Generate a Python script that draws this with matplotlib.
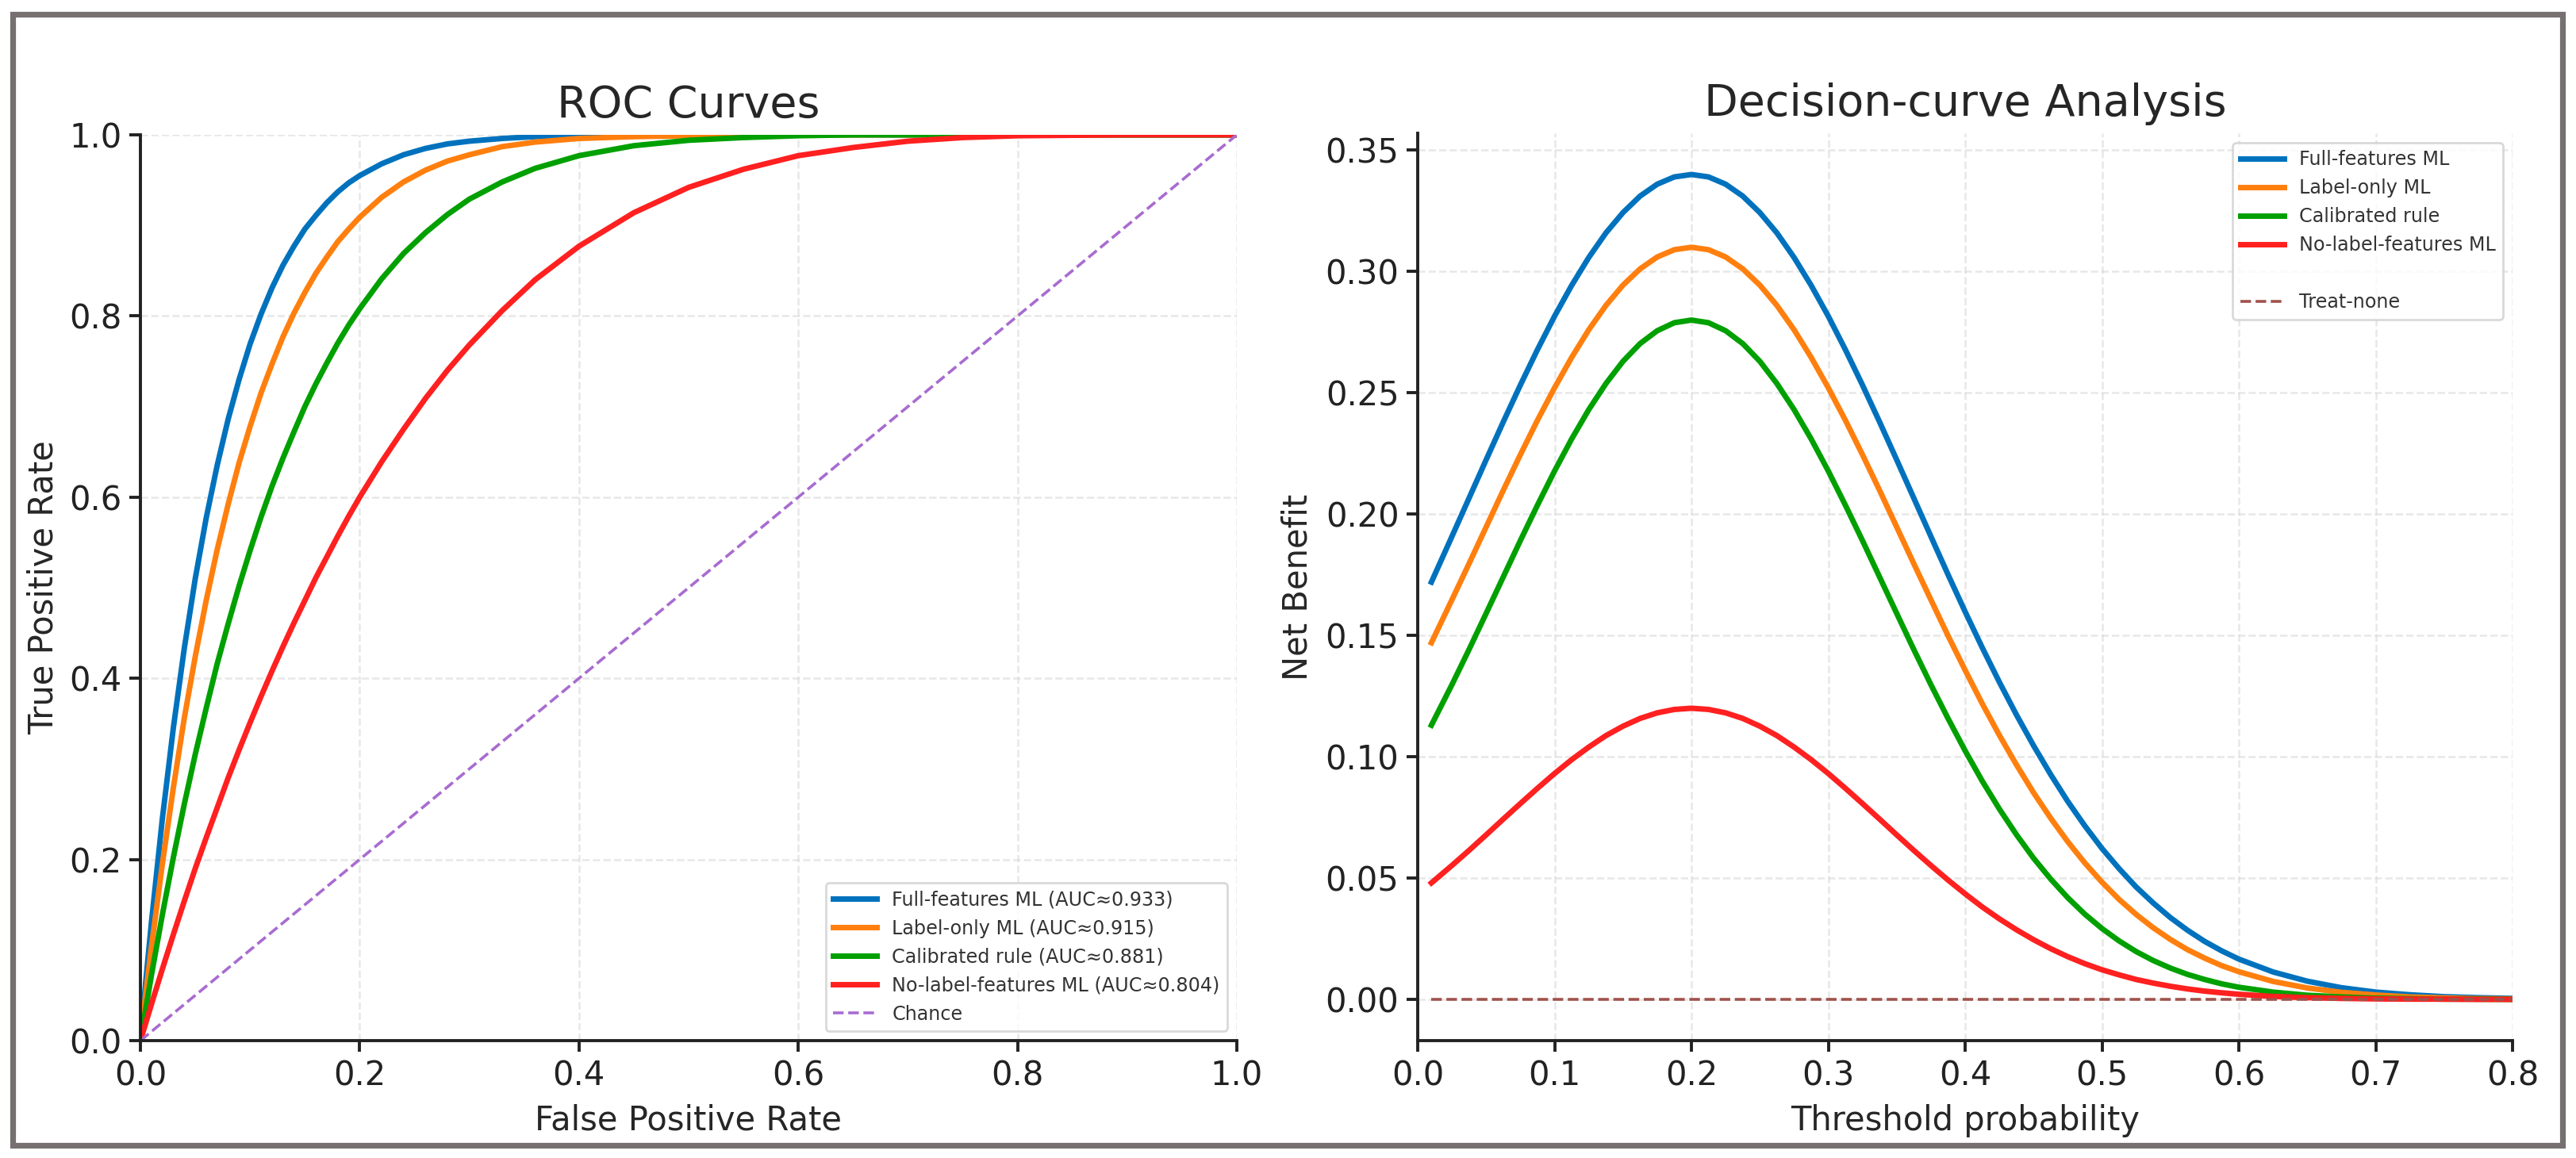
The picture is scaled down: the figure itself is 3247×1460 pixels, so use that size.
import matplotlib
matplotlib.use("Agg")
import matplotlib.pyplot as plt
from matplotlib.patches import Rectangle

# ---------------- data ----------------
fpr = [0.0, 0.005, 0.01, 0.02, 0.03, 0.04, 0.05, 0.06, 0.07, 0.08, 0.09, 0.10,
       0.11, 0.12, 0.13, 0.14, 0.15, 0.16, 0.17, 0.18, 0.19, 0.20, 0.22, 0.24,
       0.26, 0.28, 0.30, 0.33, 0.36, 0.40, 0.45, 0.50, 0.55, 0.60, 0.65, 0.70,
       0.75, 0.80, 0.90, 1.0]
tpr_full = [0.0, 0.067, 0.130, 0.245, 0.345, 0.433, 0.510, 0.577, 0.635, 0.686,
            0.730, 0.769, 0.802, 0.831, 0.856, 0.877, 0.896, 0.911, 0.925, 0.937,
            0.947, 0.955, 0.968, 0.978, 0.985, 0.990, 0.993, 0.996, 0.998, 0.999,
            1.0, 1.0, 1.0, 1.0, 1.0, 1.0, 1.0, 1.0, 1.0, 1.0]
tpr_label = [0.0, 0.053, 0.103, 0.195, 0.279, 0.356, 0.424, 0.486, 0.542, 0.592,
             0.638, 0.678, 0.715, 0.747, 0.777, 0.803, 0.826, 0.847, 0.865, 0.882,
             0.896, 0.909, 0.931, 0.948, 0.961, 0.971, 0.978, 0.987, 0.992, 0.996,
             0.998, 0.999, 1.0, 1.0, 1.0, 1.0, 1.0, 1.0, 1.0, 1.0]
tpr_rule = [0.0, 0.036, 0.072, 0.139, 0.202, 0.261, 0.316, 0.367, 0.416, 0.460,
            0.502, 0.541, 0.578, 0.612, 0.643, 0.672, 0.700, 0.725, 0.748, 0.770,
            0.790, 0.808, 0.841, 0.869, 0.892, 0.912, 0.929, 0.948, 0.963, 0.977,
            0.988, 0.994, 0.997, 0.999, 1.0, 1.0, 1.0, 1.0, 1.0, 1.0]
tpr_nolabel = [0.0, 0.020, 0.040, 0.079, 0.117, 0.154, 0.190, 0.224, 0.257, 0.290,
               0.321, 0.351, 0.380, 0.408, 0.435, 0.461, 0.486, 0.511, 0.534, 0.557,
               0.579, 0.600, 0.639, 0.675, 0.709, 0.740, 0.768, 0.806, 0.840, 0.877,
               0.914, 0.942, 0.962, 0.977, 0.986, 0.993, 0.997, 0.999, 1.0, 1.0]
chance_x = [0.0, 1.0]
chance_y = [0.0, 1.0]

roc_labels = ["Full-features ML (AUC\u22480.933)", "Label-only ML (AUC\u22480.915)",
              "Calibrated rule (AUC\u22480.881)", "No-label-features ML (AUC\u22480.804)"]

thresholds = [0.01, 0.025, 0.0375, 0.05, 0.0625, 0.075, 0.0875, 0.10, 0.1125, 0.125,
              0.1375, 0.15, 0.1625, 0.175, 0.1875, 0.20, 0.2125, 0.225, 0.2375, 0.25,
              0.2625, 0.275, 0.2875, 0.30, 0.3125, 0.325, 0.3375, 0.35, 0.3625, 0.375,
              0.3875, 0.40, 0.4125, 0.425, 0.4375, 0.45, 0.4625, 0.475, 0.4875, 0.50,
              0.5125, 0.525, 0.5375, 0.55, 0.5625, 0.575, 0.5875, 0.60, 0.625, 0.65,
              0.675, 0.70, 0.725, 0.75, 0.775, 0.80]
nb_full = [0.172, 0.1908, 0.2066, 0.2224, 0.2380, 0.2532, 0.2678, 0.2816, 0.2943, 0.3058,
           0.3159, 0.3243, 0.3311, 0.3360, 0.3390, 0.340, 0.3390, 0.3360, 0.3311, 0.3243,
           0.3159, 0.3058, 0.2943, 0.2816, 0.2678, 0.2532, 0.2380, 0.2224, 0.2066, 0.1908,
           0.1751, 0.1598, 0.1450, 0.1308, 0.1173, 0.1046, 0.0927, 0.0816, 0.0715, 0.0622,
           0.0539, 0.0463, 0.0397, 0.0337, 0.0285, 0.0239, 0.0200, 0.0166, 0.0113, 0.0075,
           0.0048, 0.0030, 0.0019, 0.0011, 0.0007, 0.0004]
nb_label = [0.147, 0.1647, 0.1796, 0.1947, 0.2098, 0.2245, 0.2387, 0.2521, 0.2646, 0.2760,
            0.2860, 0.2944, 0.3011, 0.3060, 0.3090, 0.310, 0.3090, 0.3060, 0.3011, 0.2944,
            0.2860, 0.2760, 0.2646, 0.2521, 0.2387, 0.2245, 0.2098, 0.1947, 0.1796, 0.1647,
            0.1499, 0.1357, 0.1219, 0.1089, 0.0967, 0.0852, 0.0747, 0.0650, 0.0562, 0.0483,
            0.0412, 0.0350, 0.0295, 0.0247, 0.0205, 0.0170, 0.0139, 0.0114, 0.0074, 0.0047,
            0.0029, 0.0018, 0.0010, 0.0006, 0.0003, 0.0002]
nb_rule = [0.113, 0.1297, 0.1442, 0.1591, 0.1741, 0.1891, 0.2037, 0.2178, 0.2310, 0.2431,
           0.2538, 0.2630, 0.2703, 0.2756, 0.2789, 0.280, 0.2789, 0.2756, 0.2703, 0.2630,
           0.2538, 0.2431, 0.2310, 0.2178, 0.2037, 0.1891, 0.1741, 0.1591, 0.1442, 0.1297,
           0.1158, 0.1025, 0.0900, 0.0785, 0.0679, 0.0582, 0.0496, 0.0419, 0.0351, 0.0292,
           0.0241, 0.0197, 0.0160, 0.0129, 0.0103, 0.0082, 0.0064, 0.0050, 0.0030, 0.0017,
           0.0010, 0.0005, 0.0003, 0.0001, 0.0001, 0.0000]
nb_nolabel = [0.048, 0.0552, 0.0614, 0.0678, 0.0743, 0.0807, 0.0870, 0.0931, 0.0988, 0.1040,
              0.1087, 0.1126, 0.1158, 0.1181, 0.1195, 0.120, 0.1195, 0.1181, 0.1158, 0.1126,
              0.1087, 0.1040, 0.0988, 0.0931, 0.0870, 0.0807, 0.0743, 0.0678, 0.0614, 0.0552,
              0.0492, 0.0435, 0.0381, 0.0332, 0.0287, 0.0246, 0.0209, 0.0176, 0.0147, 0.0122,
              0.0101, 0.0082, 0.0067, 0.0054, 0.0043, 0.0034, 0.0027, 0.0021, 0.0012, 0.0007,
              0.0004, 0.0002, 0.0001, 0.0001, 0.0000, 0.0000]
treat_none = [0.0] * len(thresholds)

dca_labels = ["Full-features ML", "Label-only ML", "Calibrated rule", "No-label-features ML"]

colors = ["#0072BD", "#FF7F0E", "#00A000", "#FF2020"]
chance_color = "#A86CD0"
none_color = "#A0524B"

# ---------------- figure ----------------
W, H = 3247, 1460
DPI = 200
plt.rcParams["font.family"] = ["DejaVu Sans"]
fig = plt.figure(figsize=(W / DPI, H / DPI), dpi=DPI)
fig.patch.set_facecolor("white")

TXT = "#262626"

ax1 = fig.add_axes([177 / W, 1 - 1312 / H, (1559 - 177) / W, (1312 - 170) / H])
ax2 = fig.add_axes([1787 / W, 1 - 1312 / H, (3167 - 1787) / W, (1312 - 168) / H])

lw = 2.5
for ys, c, lab in zip([tpr_full, tpr_label, tpr_rule, tpr_nolabel], colors, roc_labels):
    ax1.plot(fpr, ys, color=c, lw=lw, label=lab, solid_joinstyle="round")
ax1.plot(chance_x, chance_y, "--", color=chance_color, lw=1.3, label="Chance")
ax1.set_xlim(0, 1)
ax1.set_ylim(0, 1)
ax1.set_title("ROC Curves", fontsize=20, color=TXT, pad=8)
ax1.set_xlabel("False Positive Rate", fontsize=15, color=TXT, labelpad=5)
ax1.set_ylabel("True Positive Rate", fontsize=15, color=TXT, labelpad=4)
leg1 = ax1.legend(loc="lower right", fontsize=8.6, frameon=True, handlelength=2.3)

for ys, c, lab in zip([nb_full, nb_label, nb_rule, nb_nolabel], colors, dca_labels):
    ax2.plot(thresholds, ys, color=c, lw=lw, label=lab, solid_joinstyle="round")
ax2.plot([], [], color="none", label=" ")
ax2.plot(thresholds, treat_none, "--", color=none_color, lw=1.3, label="Treat-none")
ax2.set_xlim(0, 0.8)
ax2.set_title("Decision-curve Analysis", fontsize=20, color=TXT, pad=8)
ax2.set_xlabel("Threshold probability", fontsize=15, color=TXT, labelpad=5)
ax2.set_ylabel("Net Benefit", fontsize=15, color=TXT, labelpad=5)
leg2 = ax2.legend(loc="upper right", fontsize=8.6, frameon=True, handlelength=2.3)

for ax in (ax1, ax2):
    ax.grid(True, linestyle="--", color="#d8d8d8", alpha=0.6, lw=0.9)
    ax.set_axisbelow(True)
    for s in ("top", "right"):
        ax.spines[s].set_visible(False)
    for s in ("left", "bottom"):
        ax.spines[s].set_linewidth(1.4)
        ax.spines[s].set_color("#222222")
    ax.tick_params(labelsize=15, width=1.4, length=5, colors="#222222")
for leg in (leg1, leg2):
    for t in leg.get_texts():
        t.set_color("#333333")
    leg.get_frame().set_edgecolor("#d0d0d0")

# outer frame
fig.patches.append(Rectangle((15.5 / W, 1 - 1443.5 / H), (3229.5 - 15.5) / W,
                             (1443.5 - 17.5) / H, transform=fig.transFigure,
                             fill=False, edgecolor="#767070", lw=2.6))

fig.savefig("out.png", dpi=DPI)
